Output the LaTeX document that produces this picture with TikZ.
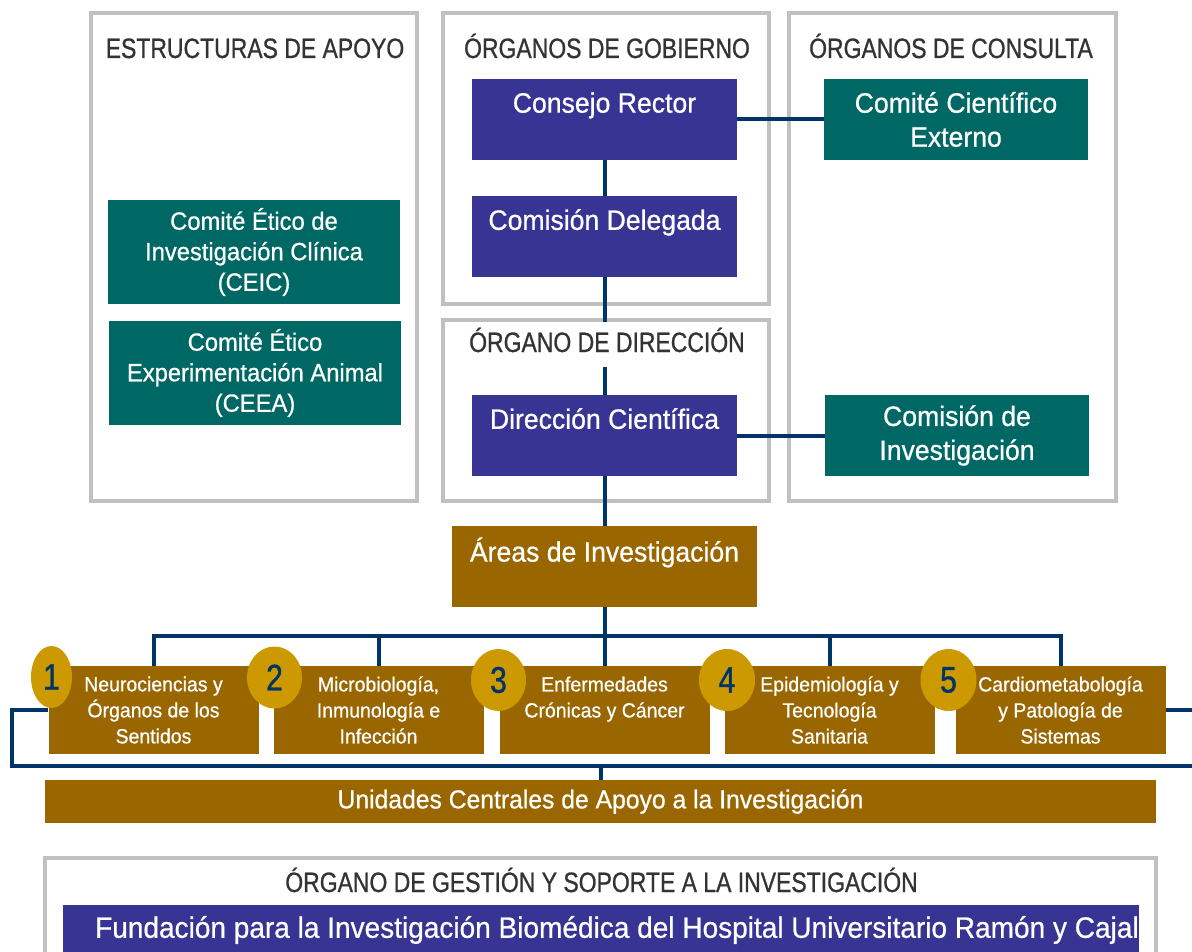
\documentclass[tikz,border=0pt]{standalone}
\usepackage{fontspec}
\setmainfont{Liberation Sans}[FakeStretch=0.95,FakeBold=0.7]
\newfontfamily\titlefont{Liberation Sans}[FakeStretch=0.82,FakeBold=0.8]
\usetikzlibrary{shapes.geometric}
\definecolor{cgob}{RGB}{55,52,148}
\definecolor{ccons}{RGB}{0,104,100}
\definecolor{carea}{RGB}{153,102,0}
\definecolor{cnum}{RGB}{204,153,0}
\definecolor{clinea}{RGB}{0,51,102}
\definecolor{cmarco}{RGB}{192,192,192}
\definecolor{ctit}{RGB}{51,51,51}
\begin{document}
\begin{tikzpicture}[x=1pt,y=-1pt,line join=miter]
            \tikzset{marco/.style={draw=cmarco,line width=3.5pt},
                titulo/.style={text=ctit,inner sep=0pt,text height=20pt,text depth=0pt,font=\titlefont\fontsize{28}{34}\selectfont},
                caja/.style={text=white,align=center,inner sep=0pt,minimum width=265,minimum height=81,font=\fontsize{28}{34}\selectfont},
                gob/.style={caja,fill=cgob},
                cons/.style={caja,fill=ccons},
                apoyo/.style={cons,minimum width=292,minimum height=104,font=\fontsize{25}{30.5}\selectfont},
                areabox/.style={caja,fill=carea,minimum width=210,minimum height=88,font=\fontsize{20.5}{26}\selectfont},
                numcirc/.style={ellipse,fill=cnum,inner sep=0pt,minimum height=62,text=clinea,font=\titlefont\fontsize{37}{37}\selectfont},
                con/.style={draw=clinea,line width=4pt}}
            \useasboundingbox (0,0) rectangle (1192,952);
            %%marcos y titulos
            \draw[marco] (91,13) rectangle (417,501);
            \draw[marco] (443,13) rectangle (769,304);
            \draw[marco] (443,320) rectangle (769,501);
            \draw[marco] (789,13) rectangle (1116,501);
            \draw[marco] (45,858) rectangle (1156,990);
            \node[titulo] (tapoyo) at (255,48) {ESTRUCTURAS DE APOYO};
            \node[titulo] (tgob) at (607,48) {ÓRGANOS DE GOBIERNO};
            \node[titulo] (tcons) at (951,48) {ÓRGANOS DE CONSULTA};
            \node[titulo] (tgest) at (601.5,882) {ÓRGANO DE GESTIÓN Y SOPORTE A LA INVESTIGACIÓN};
            %%cajas
            \node[gob] (rector) at (604.5,119.5) {Consejo Rector\\~};
            \node[gob] (delegada) at (604.5,236.5) {Comisión Delegada\\~};
            \node[gob] (dircient) at (604.5,435.5) {Dirección Científica\\~};
            \node[cons,minimum width=264] (externo) at (956,119.5) {Comité Científico\\Externo};
            \node[cons,minimum width=264] (cominv) at (957,435.5) {Comisión de\\Investigación};
            \node[apoyo] (ceic) at (254,252) {Comité Ético de\\Investigación Clínica\\(CEIC)};
            \node[apoyo] (ceea) at (255,373) {Comité Ético\\Experimentación Animal\\(CEEA)};
            \node[areabox,minimum width=305,minimum height=81,font=\fontsize{28}{34}\selectfont] (areas) at (604.5,566.5) {Áreas de Investigación\\~};
            \foreach \i/\x/\txt in {1/153.5/{Neurociencias y\\Órganos de los\\Sentidos},
                2/378.5/{Microbiología,\\Inmunología e\\Infección},
                3/604.5/{Enfermedades\\Crónicas y Cáncer\\~},
                4/829.5/{Epidemiología y\\Tecnología\\Sanitaria},
                5/1060.5/{Cardiometabología\\y Patología de\\Sistemas}}
                \node[areabox] (a\i) at (\x,710) {\txt};
            \node[areabox,minimum width=1111,minimum height=43,font=\fontsize{26}{30}\selectfont] (unidades) at (600.5,801.5) {Unidades Centrales de Apoyo a la Investigación};
            \node[gob,minimum width=1074,minimum height=50,font=\fontsize{29.5}{34}\selectfont] (fundacion) at (601,930) {\hspace*{32pt}Fundación para la Investigación Biomédica del Hospital Universitario Ramón y Cajal};
            %%conectores
            \draw[con] (rector) -- (delegada);
            \draw[con] (delegada) -- (dircient);
            \draw[con] (rector) -- (externo);
            \draw[con] (dircient) -- (cominv);
            \draw[con] (dircient) -- (areas);
            \draw[con] (areas.south) -- ++(0,29) coordinate (bus);
            \draw[con] (a1.north) |- (bus) -| (a5.north);
            \foreach \i in {2,3,4} \draw[con] (a\i.north) -- (a\i.north |- bus);
            \coordinate (lazoL) at (12,766);
            \coordinate (lazoR) at (1200,766);
            \draw[con] (a1.west) -| (lazoL) -- (lazoR);
            \draw[con] (a5.east) -- (a5.east -| lazoR);
            \draw[con] (unidades.north) -- (unidades.north |- lazoL);
            \node[titulo,fill=white,text depth=5pt,minimum width=300,minimum height=45] (tdir) at (607,344.5) {ÓRGANO DE DIRECCIÓN};
            %%numeros
            \foreach \i/\x/\y/\w in {1/51.5/677/41,2/274.5/677.5/55,3/498.5/680/55,4/727/680/56,5/948.5/680/56}
                \node[numcirc,minimum width=\w] (n\i) at (\x,\y) {\i};
        \end{tikzpicture}
\end{document}
